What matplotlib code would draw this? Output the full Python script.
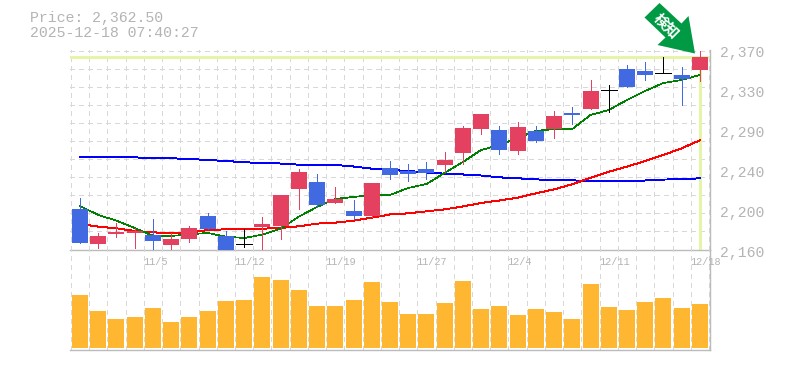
import numpy as np
import matplotlib
matplotlib.use('Agg')
import matplotlib.pyplot as plt
from matplotlib.patches import Polygon, Rectangle

#daily prices, oldest first
opens = [2203, 2166.3, 2176.5, 2177.9, 2175.8, 2165.3, 2171.6, 2195.7, 2174.7, 2166,
         2184.2, 2185.2, 2224, 2231.4, 2209.4, 2201, 2195.7, 2246.1, 2243, 2245,
         2249.3, 2261.9, 2287, 2286, 2264, 2285, 2287, 2303.9, 2308, 2328,
         2350, 2348, 2345.9, 2343.8, 2349]
closes = [2167.4, 2174.7, 2178.9, 2180, 2169.5, 2171.6, 2183.1, 2182, 2160, 2166,
          2187.3, 2217.8, 2241.9, 2207.3, 2213.6, 2195.7, 2230.4, 2238.8, 2239.8, 2240.9,
          2254.5, 2288.1, 2302.8, 2265, 2289.2, 2274.5, 2300.7, 2301.8, 2327, 2328,
          2331, 2343.8, 2345.9, 2339.6, 2362.5]
highs = [2214.3, 2177.9, 2188.4, 2183.1, 2192.6, 2177.5, 2185.2, 2198.9, 2180, 2182,
         2194.7, 2217.8, 2245, 2239.8, 2226.2, 2212.5, 2230.4, 2253.5, 2250.3, 2252.4,
         2262.9, 2290.2, 2302.8, 2290.2, 2294.4, 2290.2, 2306, 2310, 2338.5, 2333.3,
         2354, 2357.4, 2362.7, 2352.2, 2369]
lows = [2167.4, 2162.1, 2173.7, 2162.1, 2160, 2161, 2168.4, 2182, 2160, 2162.8,
        2161, 2171.6, 2203, 2205.2, 2209.4, 2192.6, 2194.7, 2234.6, 2232.5, 2234.6,
        2241.9, 2250.3, 2281.8, 2260.8, 2260.8, 2273.4, 2277.6, 2292.3, 2308, 2304.9,
        2331, 2338.5, 2345.9, 2312.3, 2337.5]

#moving averages
ma_short = [2206.2, 2196.8, 2190.8, 2183.1, 2175, 2174.7, 2176.5, 2177.9, 2174, 2172.6,
            2176.1, 2182.4, 2195, 2205.2, 2213.6, 2215.7, 2217.8, 2217.8, 2225.1, 2229.3,
            2240.9, 2252.4, 2265, 2270.3, 2277.6, 2285, 2287, 2287, 2301.8, 2307,
            2317.5, 2327, 2335.4, 2338.5, 2343.8]
ma_mid = [2187.3, 2184.5, 2182.8, 2180, 2178.6, 2177.5, 2178.2, 2181, 2181.7, 2181.7,
          2182.4, 2183.1, 2184.9, 2187.7, 2188.7, 2190.8, 2193.9, 2197.3, 2198.5, 2200.6,
          2202.7, 2205.7, 2209.4, 2212, 2214.9, 2219.5, 2223.7, 2229, 2235.9, 2242.2,
          2247.5, 2253.5, 2259.8, 2266.8, 2275.2]
ma_long = [2257.3, 2257.3, 2257.3, 2257.3, 2256.3, 2256.3, 2255.6, 2254.5, 2253.5, 2252.1,
           2251.4, 2250.8, 2249.6, 2249.6, 2249.3, 2247.7, 2245.4, 2244, 2243, 2241.4,
           2240.1, 2239.3, 2238.2, 2236.3, 2235.3, 2234.2, 2233.2, 2233.2, 2232.1, 2232.1,
           2232.1, 2233, 2234, 2234.2, 2235.3]

volumes = [159, 111, 87, 93, 120, 78, 93, 111, 141, 144,
           213, 204, 174, 126, 126, 144, 198, 138, 102, 102,
           135, 201, 117, 126, 99, 117, 108, 87, 192, 123,
           114, 138, 150, 120, 132]

date_pos = [4, 9, 14, 19, 24, 29, 34]
date_labels = ['11/5', '11/12', '11/19', '11/27', '12/4', '12/11', '12/18']
price_ticks = [2370, 2328, 2286, 2244, 2202, 2160]
price_labels = ['2,370', '2,330', '2,290', '2,240', '2,200', '2,160']
last_price = 2362.5

GREY = '#b4b4b4'
GRID = '#d8d8d8'
YELLOW = '#e4f5a8'
UP = '#e4405f'
DOWN = '#4169e1'
FONT = 'Liberation Mono'

W, H = 785.0, 370.0
fig = plt.figure(figsize=(7.85, 3.7), dpi=100)
#main panel is 70..710 px across, 50..250 px down, volume 250..350
ax = fig.add_axes([70/W, 1-250/H, 640/W, 200/H])
ax2 = fig.add_axes([70/W, 1-350/H, 640/W, 100/H])

step = 640/35.1
x = np.arange(len(closes))
xlim = (-10/step, 630/step)

for a in (ax, ax2):
    a.set_xlim(xlim)
    a.set_xticks([])
    a.set_yticks([])
    a.patch.set_alpha(0)
    for s in ['top', 'left']:
        a.spines[s].set_visible(False)
    for s in ['bottom', 'right']:
        a.spines[s].set_color('#bbbbbb')
        a.spines[s].set_linewidth(1.0)
    #dashed verticals sit between the candles
    a.vlines(np.arange(len(closes)+1)-0.5, 0, 1, transform=a.get_xaxis_transform(),
             color=GRID, lw=0.5, linestyles=(0, (6, 6)), antialiased=False, zorder=1)

ax.set_ylim(2160, 2370)
ax.hlines(2370 - 1.05 - 18.9*np.arange(11), 0, 1, transform=ax.get_yaxis_transform(),
          color=GRID, lw=0.5, linestyles=(0, (6, 6)), antialiased=False, zorder=1)

#last price cross
ax.axhline(last_price, color=YELLOW, lw=1.8, antialiased=False, zorder=2)
ax.plot([x[-1], x[-1]], [2160, last_price], color=YELLOW, lw=1.8, antialiased=False, zorder=2)

ax.plot(x, ma_long, color='#0000ff', lw=0.7, antialiased=False, zorder=3)
ax.plot(x, ma_mid, color='#ff0000', lw=0.7, antialiased=False, zorder=3)
ax.plot(x, ma_short, color='#008000', lw=0.5, antialiased=False, zorder=3)

bw = 16/step
for i in range(len(closes)):
    o, c = opens[i], closes[i]
    if c > o:
        col = UP
    elif c < o:
        col = DOWN
    else:
        col = 'black'
    ax.plot([i, i], [lows[i], highs[i]], color=col, lw=0.5, antialiased=False, zorder=4, solid_capstyle='butt')
    if c == o:
        ax.plot([i-bw/2, i+bw/2], [c, c], color=col, lw=0.5, antialiased=False, zorder=4, solid_capstyle='butt')
    else:
        ax.add_patch(Rectangle((i-bw/2, min(o, c)), bw, abs(c-o), color=col, lw=0, zorder=5))

for t, lab in zip(price_ticks, price_labels):
    ax.text((720-70)/640, t-2.8, lab, transform=ax.get_yaxis_transform(), va='center', ha='left',
            color=GREY, fontsize=10.6, family=FONT, clip_on=False)

ax2.set_ylim(-6, 294)
ax2.bar(x, volumes, width=bw, color='#ffb732', zorder=3)
for p, lab in zip(date_pos, date_labels):
    ax2.text(p-0.55, 0.88, lab, transform=ax2.get_xaxis_transform(), va='center', ha='left',
             color=GREY, fontsize=7.4, family=FONT, zorder=4, clip_on=False)

#header and arrow are placed in plain pixel coordinates
over = fig.add_axes([0, 0, 1, 1])
over.set_xlim(0, W)
over.set_ylim(H, 0)
over.axis('off')
over.text(29.5, 18, 'Price: 2,362.50', color=GREY, fontsize=10.7, family=FONT, va='center')
over.text(29.5, 33, '2025-12-18 07:40:27', color=GREY, fontsize=10.7, family=FONT, va='center')
arrow = [(659.5, 3), (681.5, 23.5), (688.5, 16), (695, 53.5), (657.5, 45), (665.5, 37.5), (644.5, 17.5)]
over.add_patch(Polygon(arrow, closed=True, color='#009944', lw=0))
over.text(667, 26, '検知', color='white', fontsize=10.5, fontweight='bold', rotation=-45,
          ha='center', va='center', rotation_mode='anchor', family=['Noto Sans CJK JP', 'DejaVu Sans'])

fig.savefig('out.png', dpi=100)
